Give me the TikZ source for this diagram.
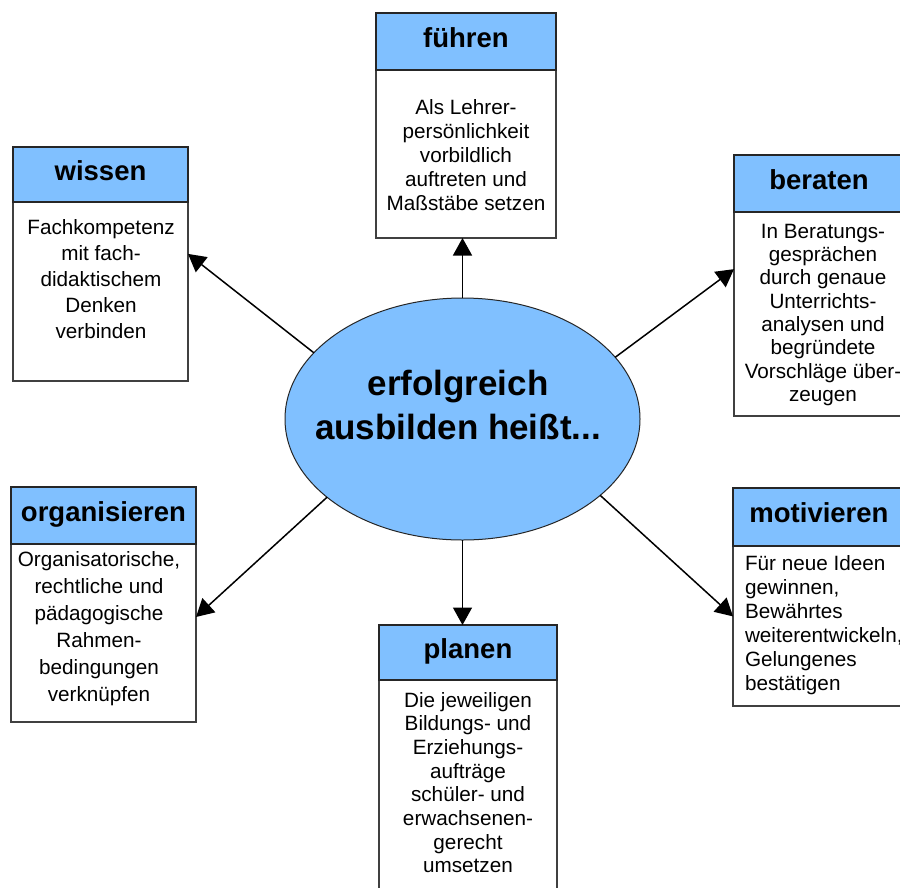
\documentclass[tikz,border=0pt]{standalone}
\usepackage{fontspec}
\setmainfont{Liberation Sans}
\usetikzlibrary{shapes.geometric,arrows.meta,calc}
\definecolor{hblue}{RGB}{128,192,255}
\tikzset{
  hdr/.style={draw=black!85, fill=hblue, line width=1.2pt, inner sep=0pt, outer sep=0pt,
    font=\fontsize{27.5}{32}\selectfont\bfseries, text height=18pt, text depth=7pt},
  bodybox/.style={draw=black!75, fill=white, line width=1.1pt, inner sep=0pt, outer sep=0pt},
  btxt/.style={anchor=north, inner sep=0pt, outer sep=0pt, align=center},
  ell/.style={ellipse, draw=black!85, fill=hblue, line width=1pt, inner sep=0pt, outer sep=0pt},
  arr/.style={line width=1.5pt, -{Triangle[length=17.5pt,width=19pt]}}
}
\begin{document}
\begin{tikzpicture}[x=1pt,y=-1pt]
\clip (0,0) rectangle (900,887);
\fill[white] (0,0) rectangle (900,887);

% fuehren
\node[bodybox, minimum width=180pt, minimum height=168pt] (fB) at (466,154) {};
\node[hdr, minimum width=180pt, minimum height=57pt] (fH) at (466,41.5) {führen};
\node[btxt, font=\fontsize{20.7}{24}\selectfont] (fT) at (466,99) {Als Lehrer-\\persönlichkeit\\vorbildlich\\auftreten und\\Maßstäbe setzen};

% wissen
\node[bodybox, minimum width=175pt, minimum height=179pt] (wB) at (100.5,291.5) {};
\node[hdr, minimum width=175pt, minimum height=55pt] (wH) at (100.5,174.5) {wissen};
\node[btxt, font=\fontsize{20.7}{26}\selectfont] (wT) at (101,219) {Fachkompetenz\\mit fach-\\didaktischem\\Denken\\verbinden};

% beraten
\node[bodybox, minimum width=170pt, minimum height=204pt] (bB) at (819,314) {};
\node[hdr, minimum width=170pt, minimum height=57pt] (bH) at (819,183.5) {beraten};
\node[btxt, font=\fontsize{20.7}{23.3}\selectfont] (bT) at (823,224) {In Beratungs-\\gesprächen\\durch genaue\\Unterrichts-\\analysen und\\begründete\\Vorschläge über-\\zeugen};

% organisieren
\node[bodybox, minimum width=185pt, minimum height=178pt] (oB) at (103.5,633) {};
\node[hdr, minimum width=185pt, minimum height=57pt] (oH) at (103.5,515.5) {organisieren};
\node[btxt, font=\fontsize{20.7}{27}\selectfont] (oT) at (99,551) {Organisatorische,\\rechtliche und\\pädagogische\\Rahmen-\\bedingungen\\verknüpfen};

% motivieren
\node[bodybox, minimum width=172pt, minimum height=160pt] (mB) at (819,626) {};
\node[hdr, minimum width=172pt, minimum height=58pt] (mH) at (819,517) {motivieren};
\node[btxt, anchor=north west, align=left, font=\fontsize{20.7}{24}\selectfont] (mT) at (745,555) {Für neue Ideen\\gewinnen,\\Bewährtes\\weiterentwickeln,\\Gelungenes\\bestätigen};

% planen
\node[bodybox, minimum width=178pt, minimum height=230pt] (pB) at (468,795) {};
\node[hdr, minimum width=178pt, minimum height=55pt] (pH) at (468,652.5) {planen};
\node[btxt, font=\fontsize{20.7}{23.7}\selectfont] (pT) at (468,692) {Die jeweiligen\\Bildungs- und\\Erziehungs-\\aufträge\\schüler- und\\erwachsenen-\\gerecht\\umsetzen};

% centre
\node[ell, minimum width=355pt, minimum height=242pt] (c) at (462.5,419) {};
\node[btxt, font=\fontsize{35}{44.5}\selectfont\bfseries] (cT) at (458,370) {erfolgreich\\ausbilden heißt...};

% arrows
\draw[arr] (c.north) -- (c.north |- fB.south);
\draw[arr] (c.south) -- (c.south |- pH.north);
\draw[arr] (c.156.9) -- ($(wB.north east)!0.29!(wB.south east)$);
\draw[arr] (c.22.7) -- ($(bB.north west)!0.28!(bB.south west)$);
\draw[arr] (c.210.2) -- ($(oB.north east)!0.41!(oB.south east)$);
\draw[arr] (c.331.3) -- ($(mB.north west)!0.44!(mB.south west)$);
\end{tikzpicture}
\end{document}
